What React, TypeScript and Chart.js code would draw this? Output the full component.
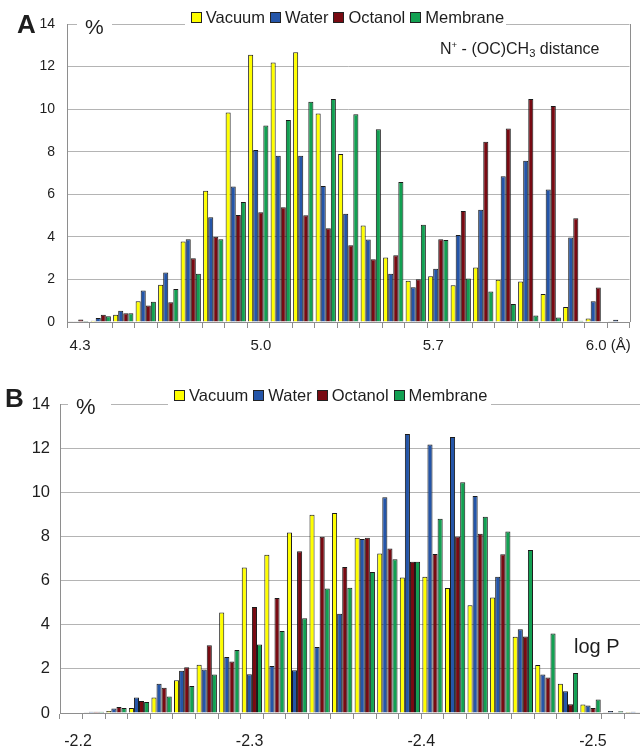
import React, { useEffect, useRef } from 'react';
import { Chart, registerables } from 'chart.js';

Chart.register(...registerables);

// ---------- data ----------
const seriesNames = ['Vacuum', 'Water', 'Octanol', 'Membrane'];
const seriesColors = ['#FFFF00', '#2455A8', '#780A12', '#12A052'];

// Panel A: N+ - (OC)CH3 distance, % per bin (25 bins)
const vacuumA = [0.03, 0.06, 0.34, 0.97, 1.75, 3.78, 6.17, 9.84, 12.55, 12.19, 12.67, 9.8, 7.89, 4.53, 3.03, 1.94, 2.15, 1.73, 2.56, 1.98, 1.9, 1.31, 0.71, 0.17, 0.03];
const waterA = [0.03, 0.19, 0.53, 1.48, 2.33, 3.89, 4.92, 6.36, 8.08, 7.81, 7.81, 6.39, 5.09, 3.87, 2.27, 1.63, 2.5, 4.09, 5.27, 6.85, 7.58, 6.23, 3.97, 0.97, 0.1];
const octanolA = [0.12, 0.34, 0.41, 0.78, 0.93, 3.0, 4.0, 5.03, 5.16, 5.39, 5.02, 4.4, 3.6, 2.95, 3.14, 2.01, 3.89, 5.22, 8.47, 9.09, 10.48, 10.15, 4.88, 1.62, 0.02];
const membraneA = [0.05, 0.27, 0.41, 0.95, 1.55, 2.27, 3.89, 5.64, 9.23, 9.49, 10.35, 10.48, 9.76, 9.06, 6.58, 4.57, 3.85, 2.04, 1.43, 0.84, 0.31, 0.21, 0.06, 0, 0];
const distTickLabels = ['4.3', '5.0', '5.7', '6.0 (Å)'];

// Panel B: log P, % per bin (26 bins)
const vacuumB = [0, 0.03, 0.09, 0.23, 0.7, 1.48, 2.19, 4.55, 6.59, 7.17, 8.18, 8.98, 9.06, 7.94, 7.23, 6.14, 6.17, 5.66, 4.88, 5.23, 3.46, 2.18, 1.32, 0.39, 0.03, 0.05];
const waterB = [0, 0.06, 0.2, 0.7, 1.32, 1.91, 1.97, 2.54, 1.76, 2.13, 1.94, 2.99, 4.5, 7.88, 9.78, 12.64, 12.16, 12.5, 9.83, 6.17, 3.79, 1.75, 0.98, 0.34, 0.09, 0.06];
const octanolB = [0, 0.06, 0.27, 0.54, 1.14, 2.07, 3.07, 2.33, 4.8, 5.21, 7.33, 7.99, 6.61, 7.94, 7.45, 6.85, 7.2, 8.0, 8.12, 7.19, 3.47, 1.61, 0.4, 0.23, 0.03, 0.03];
const membraneB = [0, 0.06, 0.23, 0.5, 0.75, 1.22, 1.74, 2.86, 3.1, 3.71, 4.29, 5.64, 5.68, 6.39, 6.97, 6.85, 8.8, 10.45, 8.89, 8.22, 7.38, 3.6, 1.81, 0.61, 0.08, 0.02];
const logPTicks = [-2.2, -2.3, -2.4, -2.5];

const yMax = 14;
const yStep = 2;

// ---------- styles ----------
const FONT = '"Liberation Sans", Arial, Helvetica, sans-serif';
const GRID = '#b4b4b4';
const AXIS = '#8e8e8e';
const TEXT = '#1e1e1e';
const BAR_EDGE = '#1a1a1a';

// where the distance labels sit, in bin units from the left edge of the plot
const distTickBins = [0.58, 8.62, 16.28, 24.06];
// log P value at the left and right edges of panel B's plot area
const logPLeft = -2.1895;
const logPRight = -2.5315;

const frameRight = {
  id: 'frameRight',
  afterDatasetsDraw(chart: any) {
    const { ctx, chartArea } = chart;
    const x = Math.round(chartArea.right) + 0.5;
    ctx.save();
    ctx.strokeStyle = AXIS;
    ctx.lineWidth = 1;
    ctx.beginPath();
    ctx.moveTo(x, chartArea.top);
    ctx.lineTo(x, chartArea.bottom);
    ctx.stroke();
    ctx.restore();
  },
};

function buildConfig(o: any) {
  const bins = o.series[0].map((_: number, i: number) => `bin ${i + 1}`);
  return {
    type: 'bar',
    data: {
      labels: bins,
      datasets: o.series.map((data: number[], i: number) => ({
        label: seriesNames[i],
        data,
        backgroundColor: seriesColors[i],
        borderColor: BAR_EDGE,
        borderWidth: 1,
        categoryPercentage: 0.9,
        barPercentage: 1.0,
        xAxisID: 'x',
        yAxisID: 'y',
      })),
    },
    options: {
      animation: false,
      responsive: false,
      events: [],
      layout: { padding: { top: o.padTop, right: o.padRight, left: 0, bottom: 0 } },
      plugins: { legend: { display: false }, tooltip: { enabled: false } },
      scales: {
        x: {
          type: 'category',
          position: 'bottom',
          weight: 0,
          offset: true,
          grid: { offset: true, drawOnChartArea: false, drawTicks: true, tickLength: 6, color: AXIS },
          border: { display: true, color: AXIS },
          ticks: { display: false, autoSkip: false },
          afterFit: (s: any) => { s.height = 8; },
        },
        xl: o.xl,
        y: {
          min: 0,
          max: yMax,
          ticks: { stepSize: yStep, padding: o.yPad, font: { family: FONT, size: o.yFont }, color: TEXT },
          grid: { color: GRID, drawTicks: false },
          border: { display: true, color: AXIS },
          afterFit: (s: any) => { s.width = o.yWidth; },
        },
      },
    },
    plugins: [frameRight],
  } as any;
}

function Legend({ left, top, padLeft, padRight }: any) {
  return (
    <div style={{ position: 'absolute', left, top, background: '#fff', paddingLeft: padLeft, paddingRight: padRight, paddingBottom: 7 }}>
      <div style={{ display: 'flex', alignItems: 'center', height: 17, fontSize: 16.5, lineHeight: 1, whiteSpace: 'nowrap' }}>
        {seriesNames.map((n, i) => (
          <span key={n} style={{ display: 'flex', alignItems: 'center', marginRight: i < seriesNames.length - 1 ? 5 : 0 }}>
            <span style={{ display: 'inline-block', width: 11, height: 11, boxSizing: 'border-box', border: '1px solid #222', background: seriesColors[i], marginRight: 4 }} />
            <span>{n}</span>
          </span>
        ))}
      </div>
    </div>
  );
}

export default function App() {
  const refA = useRef<HTMLCanvasElement>(null);
  const refB = useRef<HTMLCanvasElement>(null);

  useEffect(() => {
    const nA = vacuumA.length;
    const chartA = new Chart(refA.current as any, buildConfig({
      series: [vacuumA, waterA, octanolA, membraneA],
      padTop: 24,
      padRight: 10.5,
      yWidth: 67,
      yPad: 12,
      yFont: 14,
      xl: {
        type: 'linear',
        position: 'bottom',
        weight: 1,
        offset: false,
        bounds: 'data',
        min: 0,
        max: nA,
        grid: { display: false, drawTicks: false, offset: false },
        border: { display: false },
        afterBuildTicks: (s: any) => { s.ticks = distTickBins.map((v) => ({ value: v })); },
        ticks: {
          autoSkip: false,
          maxRotation: 0,
          padding: 7,
          font: { family: FONT, size: 15 },
          color: TEXT,
          callback: (_v: any, i: number) => distTickLabels[i],
        },
        afterFit: (s: any) => { s.height = 30; },
      },
    }));
    const chartB = new Chart(refB.current as any, buildConfig({
      series: [vacuumB, waterB, octanolB, membraneB],
      padTop: 34,
      padRight: 13,
      yWidth: 60,
      yPad: 10,
      yFont: 16.5,
      xl: {
        type: 'linear',
        position: 'bottom',
        weight: 1,
        offset: false,
        bounds: 'data',
        reverse: true,
        min: logPRight,
        max: logPLeft,
        grid: { display: false, drawTicks: false, offset: false },
        border: { display: false },
        afterBuildTicks: (s: any) => { s.ticks = logPTicks.map((v) => ({ value: v })); },
        ticks: {
          autoSkip: false,
          maxRotation: 0,
          padding: 11,
          font: { family: FONT, size: 16 },
          color: TEXT,
          callback: (v: any) => Number(v).toFixed(1),
        },
        afterFit: (s: any) => { s.height = 28; },
      },
    }));
    return () => {
      chartA.destroy();
      chartB.destroy();
    };
  }, []);

  return (
    <div style={{ position: 'fixed', left: 0, top: 0, width: 640, height: 749, overflow: 'hidden', background: '#fff', fontFamily: FONT, color: TEXT }}>
      <canvas ref={refA} width={640} height={360} style={{ position: 'absolute', left: 0, top: 0, display: 'block' }} />
      <canvas ref={refB} width={660} height={379} style={{ position: 'absolute', left: 0, top: 370, display: 'block' }} />

      {/* Panel A overlays */}
      <div style={{ position: 'absolute', left: 17, top: 11, fontSize: 26, fontWeight: 'bold', lineHeight: 1 }}>A</div>
      <div style={{ position: 'absolute', left: 77, top: 16, width: 35, height: 22, boxSizing: 'border-box', paddingLeft: 8, background: '#fff', fontSize: 21, lineHeight: 1 }}>%</div>
      <Legend left={185} top={9} padLeft={5.7} padRight={2} />
      <div style={{ position: 'absolute', left: 440, top: 40.5, fontSize: 16, lineHeight: 1, whiteSpace: 'nowrap' }}>
        N<span style={{ fontSize: '0.6em', position: 'relative', top: '-0.55em' }}>+</span> - (OC)CH<span style={{ fontSize: '0.7em', position: 'relative', top: '0.3em' }}>3</span> distance
      </div>

      {/* Panel B overlays */}
      <div style={{ position: 'absolute', left: 5, top: 385, fontSize: 26, fontWeight: 'bold', lineHeight: 1 }}>B</div>
      <div style={{ position: 'absolute', left: 68, top: 395.5, width: 43, height: 22, boxSizing: 'border-box', paddingLeft: 8, background: '#fff', fontSize: 22, lineHeight: 1 }}>%</div>
      <Legend left={168} top={386.7} padLeft={6} padRight={4} />
      <div style={{ position: 'absolute', left: 574, top: 635.6, fontSize: 20, lineHeight: 1, whiteSpace: 'nowrap' }}>log P</div>
    </div>
  );
}
